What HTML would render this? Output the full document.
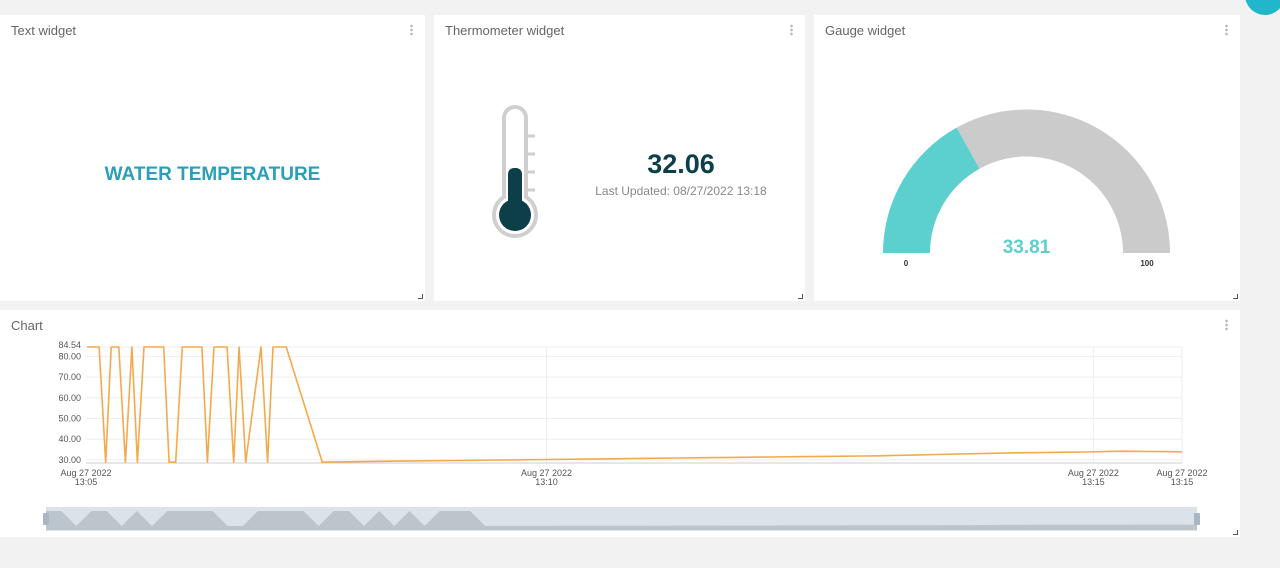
<!DOCTYPE html>
<html><head><meta charset="utf-8"><style>
body{margin:0;width:1280px;height:568px;background:#f2f2f2;font-family:"Liberation Sans",sans-serif;position:relative;overflow:hidden}
.panel{position:absolute;background:#fff}
.title{position:absolute;left:11px;top:8px;font-size:13px;color:#666}
.dots{position:absolute;right:12px;top:9px;width:3px;height:12px;background:radial-gradient(circle,#bbb 1.2px,transparent 1.5px) 0 0/3px 4px repeat-y}
.rs{position:absolute;right:2px;bottom:2px;width:4px;height:4px;border-right:1px solid #555;border-bottom:1px solid #555}
</style></head><body>
<div style="position:absolute;left:1245px;top:-25px;width:40px;height:40px;border-radius:50%;background:#21b6c9"></div>

<div class="panel" style="left:0;top:15px;width:425px;height:286px">
 <div class="title">Text widget</div>
 <div class="dots"></div>
 <div style="position:absolute;left:0;width:425px;top:149px;text-align:center;font-weight:bold;font-size:19px;color:#2a9fb8">WATER TEMPERATURE</div>
 <div class="rs"></div>
</div>

<div class="panel" style="left:434px;top:15px;width:371px;height:286px">
 <div class="title">Thermometer widget</div>
 <div class="dots"></div>
 <svg style="position:absolute;left:0;top:0" width="371" height="286">
  <path d="M70 182.1 L70 103 A11 11 0 0 1 92 103 L92 182.1 A21 21 0 1 1 70 182.1 Z" fill="none" stroke="#cfcfcf" stroke-width="4"/>
  <g stroke="#cfcfcf" stroke-width="3"><line x1="94" y1="121" x2="101" y2="121"/><line x1="94" y1="139" x2="101" y2="139"/><line x1="94" y1="157" x2="101" y2="157"/><line x1="94" y1="175" x2="101" y2="175"/></g>
  <rect x="74" y="153" width="14" height="50" rx="6" fill="#0c3f4a"/>
  <circle cx="81" cy="200" r="16" fill="#0c3f4a"/>
 </svg>
 <div style="position:absolute;left:147px;width:200px;top:134px;text-align:center;font-size:27px;font-weight:bold;color:#0c3f4a">32.06</div>
 <div style="position:absolute;left:147px;width:200px;top:169px;text-align:center;font-size:12px;color:#888">Last Updated: 08/27/2022 13:18</div>
 <div class="rs"></div>
</div>

<div class="panel" style="left:814px;top:15px;width:426px;height:286px">
 <div class="title">Gauge widget</div>
 <div class="dots"></div>
 <svg id="gauge" style="position:absolute;left:0;top:0" width="426" height="286"></svg>
 <div class="rs"></div>
</div>

<div class="panel" style="left:0;top:310px;width:1240px;height:227px">
 <div class="title">Chart</div>
 <div class="dots"></div>
 <div class="rs"></div>
</div>
<svg id="chart" style="position:absolute;left:0;top:0" width="1280" height="568"></svg>

<script>
const gaugeValue = 33.81;
const gaugeMin = 0, gaugeMax = 100;

const H = 84.54, L = 28.9;
const times = [0.01,0.12,0.18,0.23,0.30,0.36,0.42,0.47,0.53,0.58,0.65,0.71,0.76,0.82,0.88,0.94,1.00,1.06,1.11,1.17,1.29,1.35,1.40,1.46,1.60,1.66,1.71,1.77,1.83,2.16,
2.35,2.52,2.69,2.86,3.03,3.20,3.37,3.54,3.71,3.88,4.05,4.21,4.38,4.55,4.72,4.89,5.06,5.23,5.40,5.57,5.74,5.91,6.08,6.25,6.42,6.59,6.76,6.93,7.10,7.27,7.44,7.61,7.78,7.95,8.12,8.29,8.46,8.63,8.80,8.97,9.14,9.21,9.35,9.50,9.65,9.84,10.02];
const values = [H,H,L,H,H,L,H,L,H,H,H,H,L,L,H,H,H,H,L,H,H,L,H,L,H,L,H,H,H,L,
29.1,29.2,29.3,29.4,29.5,29.6,29.7,29.8,29.9,30.0,30.1,30.2,30.3,30.4,30.5,30.6,30.7,30.8,30.9,31.0,31.1,31.2,31.3,31.4,31.5,31.6,31.7,31.8,31.9,32.0,32.2,32.4,32.6,32.8,33.0,33.2,33.4,33.5,33.6,33.7,33.8,33.9,34.1,34.2,34.1,34.0,33.9];
const yTicks = [30,40,50,60,70,80];
const yTickLabels = ["30.00","40.00","50.00","60.00","70.00","80.00"];
const yMaxLabel = "84.54";
const xTicks = [0,4.21,9.21,10.02];
const xTickLabels = ["13:05","13:10","13:15","13:15"];
const xTickDate = "Aug 27 2022";

const NS="http://www.w3.org/2000/svg";
function mk(parent,tag,attrs,text){const e=document.createElementNS(NS,tag);for(const k in attrs)e.setAttribute(k,attrs[k]);if(text!==undefined)e.textContent=text;parent.appendChild(e);return e;}

(function(){
 const g=document.getElementById('gauge');
 const cx=212.5,cy=238,R=143.5,r=96.5;
 function arc(a0,a1){
  const p=(rad,a)=>[cx+rad*Math.cos(a),cy-rad*Math.sin(a)];
  const [x0,y0]=p(R,a0),[x1,y1]=p(R,a1),[x2,y2]=p(r,a1),[x3,y3]=p(r,a0);
  return `M${x0} ${y0} A${R} ${R} 0 0 1 ${x1} ${y1} L${x2} ${y2} A${r} ${r} 0 0 0 ${x3} ${y3} Z`;
 }
 const frac=(gaugeValue-gaugeMin)/(gaugeMax-gaugeMin);
 const am=Math.PI*(1-frac);
 const bg=mk(g,'path',{d:arc(am,0),fill:'#cbcbcb'});
 
 
 const fg=mk(g,'path',{d:arc(Math.PI,am),fill:'#5ccfcf'});
 
 
 const t=mk(g,'text',{x:cx,y:238,'text-anchor':'middle','font-size':19,'font-weight':'bold',fill:'#5ccfcf','font-family':'Liberation Sans'},gaugeValue.toFixed(2));
 
 
 const t0=mk(g,'text',{x:92,y:251,'text-anchor':'middle','font-size':8,'font-weight':'bold',fill:'#333','font-family':'Liberation Sans'},String(gaugeMin));
 
 
 const t1=mk(g,'text',{x:333,y:251,'text-anchor':'middle','font-size':8,'font-weight':'bold',fill:'#333','font-family':'Liberation Sans'},String(gaugeMax));
 
 
})();

(function(){
 const s=document.getElementById('chart');
 const X0=86,X1=1182,Y0=463,Y1=347;
 const tMin=0,tMax=10.02,vMin=28.5,vMax=84.54;
 const xs=t=>X0+(t-tMin)/(tMax-tMin)*(X1-X0);
 const ys=v=>Y0-(v-vMin)/(vMax-vMin)*(Y0-Y1);
 const font={'font-family':'Liberation Sans','font-size':9,fill:'#555'};
 yTicks.forEach((v,i)=>{
  const ln=mk(s,'line',{x1:X0,x2:X1,y1:ys(v),y2:ys(v),stroke:'#eee'});
  
  
  const tx=mk(s,'text',Object.assign({x:X0-5,y:ys(v)+3,'text-anchor':'end'},font),yTickLabels[i]);
  
  
 });
 const top=mk(s,'line',{x1:X0,x2:X1,y1:ys(vMax),y2:ys(vMax),stroke:'#eee'});
 
 
 const tl=mk(s,'text',Object.assign({x:X0-5,y:ys(vMax)+1,'text-anchor':'end'},font),yMaxLabel);
 
 
 xTicks.forEach((t,i)=>{
  if(i>0){const ln=mk(s,'line',{x1:xs(t),x2:xs(t),y1:Y1,y2:Y0,stroke:'#eee'});
   
   }
  const tx=mk(s,'text',Object.assign({x:xs(t),y:Y0+13,'text-anchor':'middle'},font),xTickDate);
  
  
  const tx2=mk(s,'text',Object.assign({x:xs(t),y:Y0+22,'text-anchor':'middle'},font),xTickLabels[i]);
  
  
 });
 const ax=mk(s,'line',{x1:X0,x2:X1,y1:Y0,y2:Y0,stroke:'#ccc'});
 
 
 const pts=times.map((t,i)=>xs(t).toFixed(1)+','+ys(values[i]).toFixed(1)).join(' ');
 const pl=mk(s,'polyline',{points:pts,fill:'none',stroke:'#f5a94d','stroke-width':1.6,'stroke-linejoin':'round'});
 
 

 const SX0=46,SX1=1197,SY0=507,SY1=531;
 const bg=mk(s,'rect',{x:SX0,y:SY0,width:SX1-SX0,height:SY1-SY0,fill:'#dbe2ea'});
 
 
 const n=values.length;
 const sx=i=>SX0+i*(SX1-SX0)/(n-1);
 const sy=v=>526-(v-L)/(H-L)*15;
 let d=`M${SX0} ${SY1-1}`;
 values.forEach((v,i)=>{d+=` L${sx(i).toFixed(1)} ${sy(v).toFixed(1)}`;});
 d+=` L${SX1} ${SY1-1} Z`;
 const ar=mk(s,'path',{d:d,fill:'#bcc4cc'});
 
 
 [SX0,SX1].forEach((x,k)=>{
  const h=mk(s,'rect',{x:x-3,y:513,width:6,height:12,rx:1,fill:'#a9b6c5'});
  
  
 });
})();
</script>
</body></html>
